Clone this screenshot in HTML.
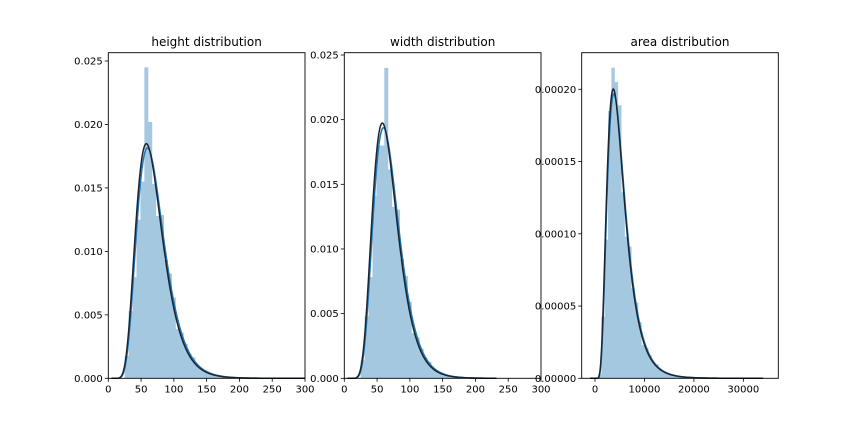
<!DOCTYPE html>
<html><head><meta charset="utf-8">
<style>
html,body{margin:0;padding:0;background:#fff;}
svg{display:block;}
text{font-family:"DejaVu Sans","Liberation Sans",sans-serif;font-size:10px;fill:#000;}
.t{font-size:12px;}
</style></head>
<body>
<svg id="s" width="864" height="432" xmlns="http://www.w3.org/2000/svg">
<rect width="864" height="432" fill="#fff"/>
<g id="plots"></g>
<text class="t" x="206.6" y="46" text-anchor="middle">height distribution</text>
<text class="t" x="442.7" y="46" text-anchor="middle">width distribution</text>
<text class="t" x="680" y="46" text-anchor="middle">area distribution</text>
</svg>
<script>
var NS="http://www.w3.org/2000/svg";
var G=document.getElementById('plots');
function el(t,a,txt){var e=document.createElementNS(NS,t);for(var k in a)e.setAttribute(k,a[k]);if(txt!==undefined)e.textContent=txt;G.appendChild(e);return e;}
function logn(mode,s){var mu=Math.log(mode)+s*s;return function(x){if(x<=0)return 0;var z=(Math.log(x)-mu)/s;return Math.exp(-z*z/2)/(x*s*2.5066283);};}
function panel(o){
  var L=o.L,R=o.R,T=52.7,B=378.3;
  var X=function(v){return L+(v-o.x0)/(o.x1-o.x0)*(R-L);};
  var Y=function(v){return o.yb+(v/o.ys)*(o.yt-o.yb);};
  var pdf=logn(o.mode,o.s), kde=logn(o.mode*1.03,o.s*0.99);
  var d="M"+X(o.hmin)+" "+B;
  var i=0;
  for(var x=o.hmin;x<o.hmax;x+=o.bw,i++){
    var c=x+o.bw/2, h=kde(c)*(1+0.1*Math.sin(i*2.3)+0.06*Math.cos(i*5.1));
    if(o.spikes[i]!==undefined)h=o.spikes[i];
    d+=" L"+X(x)+" "+Y(h)+" L"+X(x+o.bw)+" "+Y(h);
  }
  d+=" L"+X(o.hmax)+" "+B+" Z";
  el('path',{d:d,fill:'#a5c8e1',stroke:'none'});
  function curve(f,col,w){var p="";for(var k=0;k<=400;k++){var x=o.c0+(o.c1-o.c0)*k/400;p+=(k?" L":"M")+X(x).toFixed(2)+" "+Y(f(x)).toFixed(2);}el('path',{d:p,fill:'none',stroke:col,'stroke-width':w});}
  curve(kde,'#1f77b4',1.5);
  curve(pdf,'#1c2530',1.5);
  el('rect',{x:L,y:T,width:R-L,height:B-T,fill:'none',stroke:'#000','stroke-width':0.9});
  o.xt.forEach(function(v){var xx=X(v);el('line',{x1:xx,y1:B,x2:xx,y2:B+3.5,stroke:'#000','stroke-width':0.8});el('text',{x:xx,y:B+14,'text-anchor':'middle'},String(v));});
  o.yt_.forEach(function(v){var yy=Y(v[0]);el('line',{x1:L,y1:yy,x2:L-3.5,y2:yy,stroke:'#000','stroke-width':0.8});el('text',{x:L-5.5,y:yy+3.5,'text-anchor':'end'},v[1]);});
}
panel({L:108.3,R:305,x0:0,x1:300,yb:378.3,yt:61,ys:0.025,mode:58,s:0.35,
  hmin:25,hmax:180,bw:6,c0:5,c1:300,spikes:{5:0.0245,4:0.0155,3:0.0125},
  xt:[0,50,100,150,200,250,300],
  yt_:[[0,"0.000"],[0.005,"0.005"],[0.01,"0.010"],[0.015,"0.015"],[0.02,"0.020"],[0.025,"0.025"]]});
panel({L:344.3,R:541,x0:0,x1:300,yb:378.3,yt:55,ys:0.025,mode:58,s:0.33,
  hmin:25,hmax:170,bw:6,c0:5,c1:232,spikes:{6:0.024,5:0.018,4:0.018},
  xt:[0,50,100,150,200,250,300],
  yt_:[[0,"0.000"],[0.005,"0.005"],[0.01,"0.010"],[0.015,"0.015"],[0.02,"0.020"],[0.025,"0.025"]]});
panel({L:581.7,R:778.3,x0:-2690,x1:37070,yb:378.3,yt:89.3,ys:0.0002,mode:3700,s:0.48,
  hmin:600,hmax:21000,bw:680,c0:-1000,c1:34000,spikes:{4:0.000215,5:0.000205,3:0.000185},
  xt:[0,10000,20000,30000],
  yt_:[[0,"0.00000"],[0.00005,"0.00005"],[0.0001,"0.00010"],[0.00015,"0.00015"],[0.0002,"0.00020"]]});
</script>
</body></html>
